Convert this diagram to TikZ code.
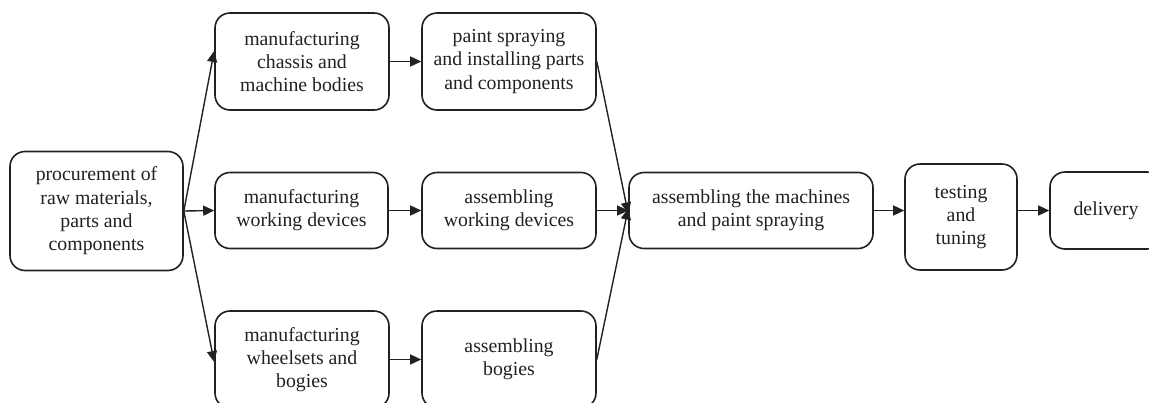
\documentclass[tikz,border=0pt]{standalone}
\usepackage{fontspec}
\setmainfont{Liberation Serif}
\definecolor{inkblk}{rgb}{0.14,0.12,0.13}
\usetikzlibrary{arrows.meta,positioning}
\tikzset{
  stage/.style={draw=inkblk,line width=1.6pt,rounded corners=15pt,align=center,
    inner sep=0pt,text=inkblk,font=\fontsize{19.8}{23.3}\selectfont},
  flow/.style={-{Triangle[length=11pt,width=10pt]},line width=1.4pt,inkblk},
}
\begin{document}
\begin{tikzpicture}[x=1pt,y=-1pt]
        \useasboundingbox (0,0) rectangle (1149,402);
        % start and the three branches
        \node[stage,minimum width=173pt,minimum height=119pt] (proc) at (96.5,211)
              {procurement of\\raw materials,\\parts and\\components};
        \node[stage,minimum width=174pt,minimum height=97pt] (chas) at (302,61.5)
              {manufacturing\\chassis and\\machine bodies};
        \node[stage,minimum width=174pt,minimum height=97pt] (paint) at (509,61.5)
              {paint spraying\\and installing parts\\and components};
        \node[stage,minimum width=173pt,minimum height=76pt] (mwd) at (301.5,210.5)
              {manufacturing\\working devices};
        \node[stage,minimum width=174pt,minimum height=76pt] (awd) at (509,210.5)
              {assembling\\working devices};
        \node[stage,minimum width=174pt,minimum height=97pt] (wheel) at (302,359.5)
              {manufacturing\\wheelsets and\\bogies};
        \node[stage,minimum width=174pt,minimum height=97pt] (bogie) at (509,359.5)
              {assembling\\bogies};
        % final assembly chain
        \node[stage,minimum width=244pt,minimum height=76pt] (mach) at (751,210.5)
              {assembling the machines\\and paint spraying};
        \node[stage,minimum width=112pt,minimum height=106pt] (test) at (961,217)
              {testing\\and\\tuning};
        \node[stage,minimum width=112pt,minimum height=77pt] (deliv) at (1106,210.5)
              {delivery};
        \draw[flow] (proc.east) -- ([yshift=10.5pt]chas.west);
        \draw[flow] (proc.east) -- (mwd.west);
        \draw[flow] (proc.east) -- ([yshift=-2.5pt]wheel.west);
        \draw[flow] (chas) -- (paint);
        \draw[flow] (mwd) -- (awd);
        \draw[flow] (wheel) -- (bogie);
        \draw[flow] (paint.east) -- ([yshift=-3pt]mach.west);
        \draw[flow] (awd) -- (mach);
        \draw[flow] (bogie.east) -- ([yshift=2pt]mach.west);
        \draw[flow] (mach.east) -- (mach.east -| test.west);
        \draw[flow] (test.east |- deliv.west) -- (deliv.west);
      \end{tikzpicture}
\end{document}
